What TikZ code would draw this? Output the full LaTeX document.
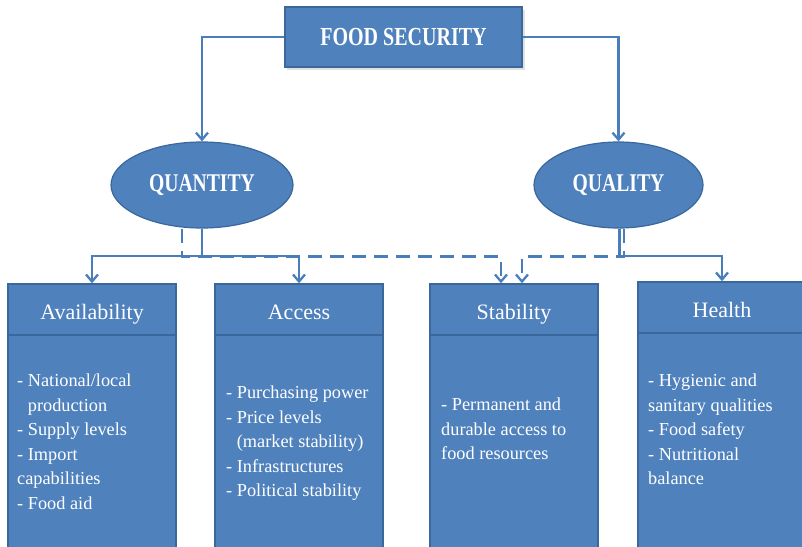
\documentclass[tikz,border=0pt]{standalone}
\usepackage{fontspec}
\setmainfont{Liberation Serif}
\newfontfamily\condbold[FakeStretch=0.77]{Liberation Serif}
\usetikzlibrary{arrows.meta,shapes.geometric}
\definecolor{boxblue}{HTML}{4F81BD}
\definecolor{boxline}{HTML}{3A679C}
\definecolor{linkblue}{HTML}{4A7EBB}
\tikzset{
  hdr/.style={draw=boxline, line width=1.5pt, fill=boxblue, minimum width=168pt, minimum height=51pt,
    inner sep=0pt, text=white, text height=20.5pt, text depth=1pt, font=\fontsize{22}{26}\selectfont},
  bodybox/.style={draw=boxline, line width=1.5pt, fill=boxblue, minimum width=168pt, minimum height=215pt,
    inner sep=0pt},
  bodytext/.style={anchor=north west, inner sep=0pt, text=white, align=left,
    font=\fontsize{18.3}{24.5}\selectfont},
  oval/.style={ellipse, draw=boxline, fill=boxblue, line width=1.2pt, text=white, inner sep=0pt,
    font=\condbold\bfseries\fontsize{25.5}{30}\selectfont, minimum height=86pt},
  topbox/.style={draw=boxline, fill=boxblue, line width=1.5pt, text=white, inner sep=0pt,
    font=\condbold\bfseries\fontsize{26}{30}\selectfont, minimum width=237pt, minimum height=60pt},
  linkline/.style={draw=linkblue, line width=2.3pt},
  link/.style={linkline, -{Straight Barb[length=7pt,width=12pt,line width=2.3pt]}},
  dlink/.style={link, dash pattern=on 14pt off 8pt},
}
\begin{document}
\begin{tikzpicture}[x=1pt,y=-1pt]
\clip (0,0) rectangle (802,546);
\fill[white] (0,0) rectangle (802,546);
% top
\fill[black!12] (287,10) rectangle (525,70);
\node[topbox] (fs) at (403.5,37) {FOOD SECURITY};
\node[oval, minimum width=182pt] (qty) at (202,185) {QUANTITY};
\node[oval, minimum width=169pt] (qly) at (618.5,185) {QUALITY};
% boxes
\node[bodybox] (avb) at (92,442.5) {};
\node[hdr] (avh) at (92,309.5) {Availability};
\node[bodybox] (acb) at (299,442.5) {};
\node[hdr] (ach) at (299,309.5) {Access};
\node[bodybox] (stb) at (514,442.5) {};
\node[hdr] (sth) at (514,309.5) {Stability};
\node[bodybox] (heb) at (722,440.5) {};
\node[hdr] (heh) at (722,307.5) {Health};
% texts
\node[bodytext] (avt) at (17,374) {- National/local\\\phantom{- }production\\- Supply levels\\- Import\\capabilities\\- Food aid};
\node[bodytext] (act) at (226,386) {- Purchasing power\\- Price levels\\\phantom{- }(market stability)\\- Infrastructures\\- Political stability};
\node[bodytext] (stt) at (441,398) {- Permanent and\\durable access to\\food resources};
\node[bodytext] (het) at (648,374) {- Hygienic and\\sanitary qualities\\- Food safety\\- Nutritional\\balance};
% connectors
\draw[link] (fs.west) -| (qty.north);
\draw[link] (fs.east) -| (qly.north);
\coordinate (qj) at (202,256);
\coordinate (lj) at (619.5,256);
\draw[dlink] ([xshift=-20pt]qty.south) -- ++(0,28) -| ([xshift=-13pt]sth.north);
\draw[dlink] ([xshift=5.5pt]qly.south) -- ++(0,28) -| ([xshift=8pt]sth.north);
\draw[link] (qty.south) -- (qj) -| (avh.north);
\draw[link] (qj) -| (ach.north);
\draw[link] ([xshift=1pt]qly.south) -- (lj) -| (heh.north);
\end{tikzpicture}
\end{document}
